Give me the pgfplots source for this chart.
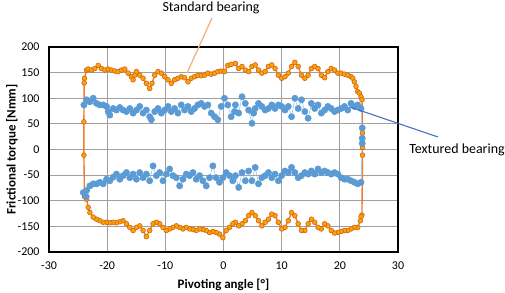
\documentclass[border=0pt]{standalone}
\usepackage{fontspec}
\setmainfont{Carlito}
\usepackage{pgfplots}
\pgfplotsset{compat=1.18}
\definecolor{orfill}{HTML}{F7A20F}
\definecolor{ordraw}{HTML}{D9650B}
\definecolor{orline}{HTML}{ED7D31}
\definecolor{blmark}{HTML}{5B9BD5}
\definecolor{blline}{HTML}{9DC3E6}
\definecolor{orlead}{HTML}{F4B183}
\definecolor{bllead}{HTML}{4472C4}
\begin{document}
\begin{tikzpicture}
\useasboundingbox (-49bp,-41bp) rectangle (456bp,252bp);
\begin{axis}[
  scale only axis, width=349bp, height=205bp,
  xmin=-30, xmax=30, ymin=-200, ymax=200,
  xtick={-30,-20,...,30}, ytick={-200,-150,...,200},
  grid=major, major grid style={draw=gray!75, line width=0.8bp},
  axis line style={black, line width=1.3bp},
  major tick length=0pt,
  /pgf/number format/assume math mode=true,
  tick label style={font=\fontsize{12}{14}\selectfont},
  xticklabel style={yshift=-6bp},
  yticklabel style={xshift=-6bp},
  xlabel={\textbf{Pivoting angle [°]}},
  ylabel={\textbf{Frictional torque [Nmm]}},
  label style={font=\fontsize{13}{15}\selectfont},
  xlabel style={at={(axis description cs:0.5,-0.16)}, anchor=center},
  ylabel style={at={(axis description cs:-0.106,0.5)}, anchor=center},
  clip=false,
]
% Standard bearing
\addplot[orline, line width=1.4bp, mark=*, mark size=2.4bp,
  mark options={fill=orfill, draw=ordraw, line width=0.6bp}] coordinates {
(-23.9,139) (-23.54,155) (-23.26,157) (-22.69,155) (-22.11,158) (-21.54,164)
(-20.97,158) (-20.4,155) (-19.83,157) (-19.26,155) (-18.69,153) (-18.11,152)
(-17.54,155) (-16.97,157) (-16.4,149) (-15.83,142) (-15.54,136) (-15.26,145)
(-14.97,152) (-14.4,145) (-13.83,139) (-13.26,129) (-12.69,119) (-12.29,129)
(-11.83,145) (-11.26,152) (-10.69,149) (-10.11,142) (-9.54,136) (-8.97,129)
(-8.4,136) (-7.83,139) (-7.26,142) (-6.69,140) (-6.11,132) (-5.54,139)
(-4.97,142) (-4.4,145) (-3.83,144) (-3.26,145) (-2.69,149) (-2.11,147)
(-1.54,149) (-0.97,152) (-0.4,153) (0.17,152) (0.74,164) (1.31,166)
(2.05,168) (2.61,158) (3.18,162) (3.75,155) (4.32,152) (4.89,162)
(5.45,165) (6.02,155) (6.59,149) (7.16,152) (7.73,162) (8.3,165)
(8.86,158) (9.43,145) (10.0,139) (10.57,142) (11.14,149) (11.7,162)
(12.27,170) (12.84,162) (13.41,145) (13.98,139) (14.55,145) (15.11,158)
(15.68,162) (16.25,158) (16.82,145) (17.39,140) (17.95,152) (18.52,158)
(19.09,155) (19.66,149) (20.23,149) (20.8,147) (21.36,145) (21.93,142)
(22.22,139) (22.5,132) (22.78,123) (23.07,113) (23.35,110) (23.64,103)
(23.81,97) (23.9,32) (23.9,4) (23.9,-11) (23.8,-128)
(23.64,-131) (23.52,-139) (23.07,-152) (22.5,-152) (21.93,-155) (21.36,-158)
(20.8,-158) (20.23,-160) (19.66,-162) (19.09,-163) (18.52,-158) (17.95,-149)
(17.39,-145) (16.82,-155) (16.25,-152) (15.68,-142) (15.11,-136) (14.55,-145)
(13.98,-158) (13.41,-158) (12.84,-145) (12.27,-129) (11.7,-123) (11.14,-139)
(10.57,-152) (10.0,-155) (9.43,-142) (8.86,-129) (8.3,-126) (7.73,-136)
(7.16,-142) (6.59,-149) (6.02,-139) (5.45,-129) (4.89,-123) (4.32,-129)
(3.75,-139) (3.18,-145) (2.61,-149) (2.05,-142) (1.6,-145) (1.03,-152)
(0.46,-158) (-0.11,-172) (-0.69,-165) (-1.26,-162) (-1.83,-160) (-2.4,-162)
(-2.97,-158) (-3.54,-156) (-4.11,-155) (-4.69,-158) (-5.26,-156) (-5.83,-155)
(-6.4,-152) (-6.97,-155) (-7.54,-152) (-8.11,-149) (-8.69,-152) (-9.26,-155)
(-9.83,-158) (-10.4,-152) (-10.97,-145) (-11.54,-142) (-12.11,-145) (-12.69,-158)
(-13.26,-170) (-13.83,-158) (-14.4,-149) (-14.97,-152) (-15.54,-158) (-16.11,-152)
(-16.69,-145) (-17.26,-139) (-17.83,-141) (-18.4,-143) (-18.97,-142) (-19.54,-143)
(-20.11,-142) (-20.69,-142) (-21.26,-139) (-21.83,-136) (-22.4,-132) (-22.97,-123)
(-23.26,-113) (-23.54,-97) (-23.9,-92) (-24.0,-11) (-24.0,54) (-23.95,130)
};
% Textured bearing
\addplot[blline, line width=0.6bp, mark=*, mark size=3.1bp,
  mark options={fill=blmark, draw=blmark}] coordinates {
(-24.0,87) (-23.54,97) (-22.97,93) (-22.4,100) (-21.83,90) (-21.26,87)
(-20.69,87) (-20.11,84) (-19.83,74) (-19.54,67) (-18.97,80) (-18.4,77)
(-17.83,82) (-17.26,77) (-16.69,74) (-16.11,80) (-15.54,71) (-14.97,77)
(-14.4,84) (-13.83,71) (-13.26,77) (-12.69,64) (-12.4,58) (-11.83,74)
(-11.26,80) (-10.69,71) (-10.11,77) (-9.54,84) (-8.97,74) (-8.4,80)
(-7.83,71) (-7.26,87) (-6.69,77) (-6.11,84) (-5.54,74) (-4.97,80)
(-4.4,87) (-3.83,90) (-3.26,84) (-2.69,87) (-2.11,71) (-1.54,64)
(-0.97,58) (-0.4,84) (0.17,100) (0.74,87) (1.31,64) (1.89,74)
(2.05,87) (2.61,71) (3.18,103) (3.75,90) (4.32,77) (4.89,51)
(5.17,71) (5.45,80) (6.02,90) (6.59,84) (7.16,77) (7.73,80)
(8.3,87) (8.86,80) (9.43,87) (10.0,84) (10.57,77) (11.14,84)
(11.7,64) (12.27,100) (12.84,80) (13.41,97) (13.98,74) (14.55,61)
(15.11,90) (15.68,80) (16.25,87) (16.82,71) (17.39,77) (17.95,84)
(18.52,80) (19.09,74) (19.66,77) (20.23,80) (20.8,84) (21.36,77)
(21.93,90) (22.5,84) (23.07,87) (23.64,80)
(23.85,42) (23.85,22) (23.85,12)
(23.64,-64) (23.07,-67) (22.5,-64) (21.93,-61) (21.36,-58) (20.8,-58)
(20.23,-55) (19.66,-48) (19.09,-45) (18.52,-48) (17.95,-45) (17.39,-42)
(16.82,-45) (16.25,-38) (15.68,-48) (15.11,-42) (14.55,-48) (13.98,-45)
(13.41,-51) (12.84,-55) (12.27,-45) (11.7,-35) (11.14,-45) (10.57,-42)
(10.0,-51) (9.43,-61) (8.86,-48) (8.3,-55) (7.73,-45) (7.16,-51)
(6.59,-55) (6.02,-67) (5.45,-35) (4.89,-61) (4.32,-42) (3.75,-61)
(3.18,-45) (2.61,-74) (2.05,-51) (1.6,-61) (1.03,-51) (0.46,-45)
(-0.11,-55) (-0.69,-64) (-1.26,-55) (-1.83,-32) (-2.4,-55) (-2.97,-71)
(-3.54,-61) (-4.11,-51) (-4.69,-58) (-5.26,-45) (-5.83,-51) (-6.4,-48)
(-6.97,-58) (-7.54,-71) (-8.11,-55) (-8.69,-51) (-9.26,-38) (-9.83,-48)
(-10.4,-61) (-10.97,-45) (-11.54,-51) (-12.11,-32) (-12.69,-61) (-13.26,-48)
(-13.83,-55) (-14.4,-45) (-14.97,-58) (-15.54,-48) (-16.11,-55) (-16.69,-45)
(-17.26,-51) (-17.83,-58) (-18.4,-48) (-18.97,-54) (-19.54,-61) (-20.11,-58)
(-20.69,-67) (-21.26,-64) (-21.83,-67) (-22.4,-67) (-22.97,-71) (-23.54,-80)
(-23.6,-92) (-24.1,-84)
};
\end{axis}
% annotations (picture coordinates in bp, origin at lower-left of plot box)
\draw[orlead, line width=1.3bp] (163bp,234bp) -- (138bp,179bp);
\node[font=\fontsize{14}{16}\selectfont, anchor=center] at (162bp,244bp) {Standard bearing};
\draw[bllead, line width=1.1bp] (389bp,115bp) -- (301bp,145bp);
\node[font=\fontsize{14}{16}\selectfont, anchor=center] at (408bp,102bp) {Textured bearing};
\end{tikzpicture}
\end{document}
